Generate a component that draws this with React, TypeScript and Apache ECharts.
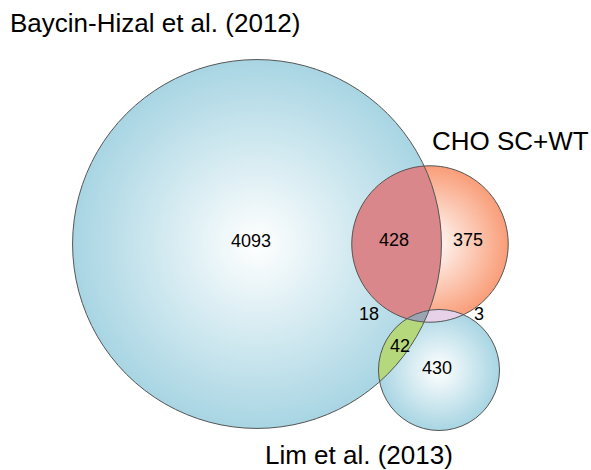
import React, { useEffect, useRef } from "react";
import * as echarts from "echarts";

// ---- data ----
const setNames = ["Baycin-Hizal et al. (2012)", "CHO SC+WT", "Lim et al. (2013)"];
// region membership (indices into setNames) and counts
const regionSets: number[][] = [[0], [1], [2], [0, 1], [0, 2], [1, 2], [0, 1, 2]];
const regionCounts = [4093, 375, 430, 428, 42, 3, 18];

// ---- layout (data units = pixels of the 591x470 canvas) ----
const circleCenters = [
  [257, 244],
  [430, 244],
  [439, 370],
];
const areaScale = 2.725; // radius = areaScale * sqrt(set size)
const regionLabelPos = [
  [251, 241],
  [468, 240],
  [437, 368],
  [394, 240],
  [400, 346],
  [479, 314],
  [369, 314],
];
const setLabelPos = [
  [10, 23],
  [432, 141],
  [265, 455],
];

// ---- styles ----
const circleEdgeColors = ["#a8d5e3", "#f99d78", "#a8d5e3"];
const overlapColors: Record<string, string> = {
  "0,1": "#d9878a",
  "0,2": "#b6d87c",
  "1,2": "#e6d1e8",
  "0,1,2": "#9aa5b1",
};
const FONT = "'Liberation Sans', Arial, Helvetica, sans-serif";

const setTotals = setNames.map((_, i) =>
  regionSets.reduce((s, m, k) => (m.includes(i) ? s + regionCounts[k] : s), 0)
);
const radiusOf = (i: number) => areaScale * Math.sqrt(setTotals[i]);

type Pt = [number, number];

function circlePoly(cx: number, cy: number, r: number, n = 720): Pt[] {
  const pts: Pt[] = [];
  for (let k = 0; k < n; k++) {
    const a = (2 * Math.PI * k) / n;
    pts.push([cx + r * Math.cos(a), cy + r * Math.sin(a)]);
  }
  return pts;
}

function clipPoly(subject: Pt[], clip: Pt[]): Pt[] {
  let output = subject;
  for (let i = 0; i < clip.length; i++) {
    if (!output.length) break;
    const a = clip[i];
    const b = clip[(i + 1) % clip.length];
    const dx = b[0] - a[0];
    const dy = b[1] - a[1];
    const side = (p: Pt) => dx * (p[1] - a[1]) - dy * (p[0] - a[0]);
    const input = output;
    output = [];
    for (let j = 0; j < input.length; j++) {
      const cur = input[j];
      const prev = input[(j + input.length - 1) % input.length];
      const sc = side(cur);
      const sp = side(prev);
      const inter = (): Pt => {
        const t = sp / (sp - sc);
        return [prev[0] + t * (cur[0] - prev[0]), prev[1] + t * (cur[1] - prev[1])];
      };
      if (sc >= 0) {
        if (sp < 0) output.push(inter());
        output.push(cur);
      } else if (sp >= 0) {
        output.push(inter());
      }
    }
  }
  return output;
}

export default function App() {
  const ref = useRef<HTMLDivElement>(null);

  useEffect(() => {
    if (!ref.current) return;
    const chart = echarts.init(ref.current, undefined, { renderer: "svg" });

    const circleGeom = (api: any, i: number) => {
      const p = api.coord(circleCenters[i]);
      const r = api.size([radiusOf(i), 0])[0];
      return { cx: p[0], cy: p[1], r };
    };

    const overlapIdx = regionSets.map((m, k) => k).filter((k) => regionSets[k].length > 1);

    chart.setOption({
      animation: false,
      backgroundColor: "#ffffff",
      grid: { left: 0, right: 0, top: 0, bottom: 0 },
      xAxis: { type: "value", min: 0, max: 591, show: false },
      yAxis: { type: "value", min: 0, max: 470, inverse: true, show: false },
      series: [
        {
          type: "custom",
          z: 1,
          silent: true,
          data: setNames.map((_, i) => [i]),
          renderItem: (params: any, api: any) => {
            const i = api.value(0);
            const g = circleGeom(api, i);
            return {
              type: "circle",
              shape: g,
              style: {
                fill: {
                  type: "radial",
                  x: 0.5,
                  y: 0.5,
                  r: 0.5,
                  colorStops: [
                    { offset: 0, color: "#ffffff" },
                    { offset: 1, color: circleEdgeColors[i] },
                  ],
                },
                stroke: "none",
              },
            };
          },
        },
        {
          type: "custom",
          z: 2,
          silent: true,
          data: overlapIdx.map((k) => [k]),
          renderItem: (params: any, api: any) => {
            const k = api.value(0);
            const sets = regionSets[k];
            const polys = sets.map((i) => {
              const g = circleGeom(api, i);
              return circlePoly(g.cx, g.cy, g.r);
            });
            let poly = polys[0];
            for (let s = 1; s < polys.length; s++) poly = clipPoly(poly, polys[s]);
            return {
              type: "polygon",
              shape: { points: poly },
              style: { fill: overlapColors[sets.join(",")], stroke: "none" },
            };
          },
        },
        {
          type: "custom",
          z: 3,
          silent: true,
          data: setNames.map((_, i) => [i]),
          renderItem: (params: any, api: any) => {
            const i = api.value(0);
            const g = circleGeom(api, i);
            return {
              type: "circle",
              shape: g,
              style: { fill: "none", stroke: "#555555", lineWidth: 1 },
            };
          },
        },
        {
          type: "custom",
          z: 4,
          silent: true,
          data: regionCounts.map((c, k) => [regionLabelPos[k][0], regionLabelPos[k][1], c]),
          renderItem: (params: any, api: any) => {
            const p = api.coord([api.value(0), api.value(1)]);
            return {
              type: "text",
              x: p[0],
              y: p[1],
              style: {
                text: String(api.value(2)),
                fontSize: 18,
                fontFamily: FONT,
                fill: "#000000",
                align: "center",
                verticalAlign: "middle",
              },
            };
          },
        },
        {
          type: "custom",
          z: 4,
          silent: true,
          data: setNames.map((_, i) => [setLabelPos[i][0], setLabelPos[i][1], i]),
          renderItem: (params: any, api: any) => {
            const p = api.coord([api.value(0), api.value(1)]);
            return {
              type: "text",
              x: p[0],
              y: p[1],
              style: {
                text: setNames[api.value(2)],
                fontSize: 26,
                fontFamily: FONT,
                fill: "#000000",
                align: "left",
                verticalAlign: "middle",
              },
            };
          },
        },
      ],
    });

    return () => chart.dispose();
  }, []);

  return (
    <div
      ref={ref}
      style={{ position: "absolute", left: 0, top: 0, width: 591, height: 470, background: "#fff" }}
    />
  );
}
